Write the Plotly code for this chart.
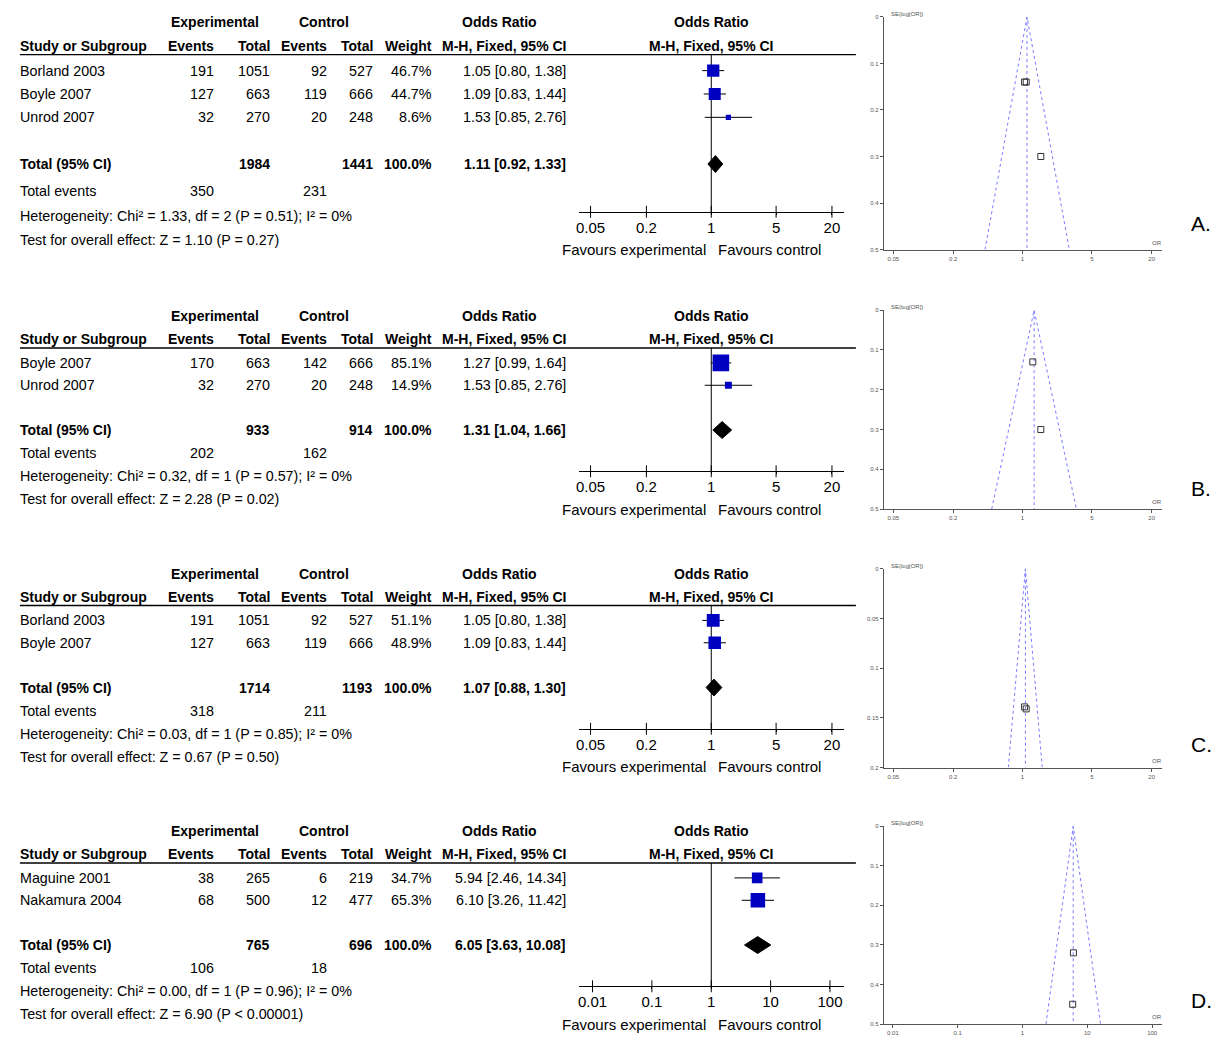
import math
import plotly.graph_objects as go

W, H = 1219, 1039
FONT = "Liberation Sans, Arial, sans-serif"

# ---------------- data: panel A ----------------
a_study = ["Borland 2003", "Boyle 2007", "Unrod 2007"]
a_exp_events = [191, 127, 32]
a_exp_total = [1051, 663, 270]
a_ctl_events = [92, 119, 20]
a_ctl_total = [527, 666, 248]
a_weight = [46.7, 44.7, 8.6]
a_or = [1.05, 1.09, 1.53]
a_lo = [0.80, 0.83, 0.85]
a_hi = [1.38, 1.44, 2.76]
a_total_n = [1984, 1441]
a_total_events = [350, 231]
a_pooled = [1.11, 0.92, 1.33]
a_het = "Heterogeneity: Chi² = 1.33, df = 2 (P = 0.51); I² = 0%"
a_test = "Test for overall effect: Z = 1.10 (P = 0.27)"
a_se = [0.14, 0.14, 0.30]
a_funnel_base = [0.42, 2.96]
a_se_max = 0.5

# ---------------- data: panel B ----------------
b_study = ["Boyle 2007", "Unrod 2007"]
b_exp_events = [170, 32]
b_exp_total = [663, 270]
b_ctl_events = [142, 20]
b_ctl_total = [666, 248]
b_weight = [85.1, 14.9]
b_or = [1.27, 1.53]
b_lo = [0.99, 0.85]
b_hi = [1.64, 2.76]
b_total_n = [933, 914]
b_total_events = [202, 162]
b_pooled = [1.31, 1.04, 1.66]
b_het = "Heterogeneity: Chi² = 0.32, df = 1 (P = 0.57); I² = 0%"
b_test = "Test for overall effect: Z = 2.28 (P = 0.02)"
b_se = [0.13, 0.30]
b_funnel_base = [0.49, 3.49]
b_se_max = 0.5

# ---------------- data: panel C ----------------
c_study = ["Borland 2003", "Boyle 2007"]
c_exp_events = [191, 127]
c_exp_total = [1051, 663]
c_ctl_events = [92, 119]
c_ctl_total = [527, 666]
c_weight = [51.1, 48.9]
c_or = [1.05, 1.09]
c_lo = [0.80, 0.83]
c_hi = [1.38, 1.44]
c_total_n = [1714, 1193]
c_total_events = [318, 211]
c_pooled = [1.07, 0.88, 1.30]
c_het = "Heterogeneity: Chi² = 0.03, df = 1 (P = 0.85); I² = 0%"
c_test = "Test for overall effect: Z = 0.67 (P = 0.50)"
c_se = [0.139, 0.141]
c_funnel_base = [0.72, 1.58]
c_se_max = 0.2

# ---------------- data: panel D ----------------
d_study = ["Maguine 2001", "Nakamura 2004"]
d_exp_events = [38, 68]
d_exp_total = [265, 500]
d_ctl_events = [6, 12]
d_ctl_total = [219, 477]
d_weight = [34.7, 65.3]
d_or = [5.94, 6.10]
d_lo = [2.46, 3.26]
d_hi = [14.34, 11.42]
d_total_n = [765, 696]
d_total_events = [106, 18]
d_pooled = [6.05, 3.63, 10.08]
d_het = "Heterogeneity: Chi² = 0.00, df = 1 (P = 0.96); I² = 0%"
d_test = "Test for overall effect: Z = 6.90 (P < 0.00001)"
d_se = [0.45, 0.32]
d_funnel_base = [2.3, 16.0]
d_se_max = 0.5

# tick labels
forest_ticks_abc = [0.05, 0.2, 1, 5, 20]
forest_ticklabels_abc = ["0.05", "0.2", "1", "5", "20"]
forest_ticks_d = [0.01, 0.1, 1, 10, 100]
forest_ticklabels_d = ["0.01", "0.1", "1", "10", "100"]
funnel_yticks_05 = [0, 0.1, 0.2, 0.3, 0.4, 0.5]
funnel_yticklabels_05 = ["0", "0.1", "0.2", "0.3", "0.4", "0.5"]
funnel_yticks_02 = [0, 0.05, 0.1, 0.15, 0.2]
funnel_yticklabels_02 = ["0", "0.05", "0.1", "0.15", "0.2"]
panel_letters = ["A.", "B.", "C.", "D."]

panels = [
    dict(study=a_study, ee=a_exp_events, et=a_exp_total, ce=a_ctl_events, ct=a_ctl_total,
         w=a_weight, orr=a_or, lo=a_lo, hi=a_hi, tn=a_total_n, tev=a_total_events,
         pooled=a_pooled, het=a_het, test=a_test, se=a_se, base=a_funnel_base, semax=a_se_max,
         fticks=forest_ticks_abc, flabels=forest_ticklabels_abc,
         yticks=funnel_yticks_05, ylabels=funnel_yticklabels_05),
    dict(study=b_study, ee=b_exp_events, et=b_exp_total, ce=b_ctl_events, ct=b_ctl_total,
         w=b_weight, orr=b_or, lo=b_lo, hi=b_hi, tn=b_total_n, tev=b_total_events,
         pooled=b_pooled, het=b_het, test=b_test, se=b_se, base=b_funnel_base, semax=b_se_max,
         fticks=forest_ticks_abc, flabels=forest_ticklabels_abc,
         yticks=funnel_yticks_05, ylabels=funnel_yticklabels_05),
    dict(study=c_study, ee=c_exp_events, et=c_exp_total, ce=c_ctl_events, ct=c_ctl_total,
         w=c_weight, orr=c_or, lo=c_lo, hi=c_hi, tn=c_total_n, tev=c_total_events,
         pooled=c_pooled, het=c_het, test=c_test, se=c_se, base=c_funnel_base, semax=c_se_max,
         fticks=forest_ticks_abc, flabels=forest_ticklabels_abc,
         yticks=funnel_yticks_02, ylabels=funnel_yticklabels_02),
    dict(study=d_study, ee=d_exp_events, et=d_exp_total, ce=d_ctl_events, ct=d_ctl_total,
         w=d_weight, orr=d_or, lo=d_lo, hi=d_hi, tn=d_total_n, tev=d_total_events,
         pooled=d_pooled, het=d_het, test=d_test, se=d_se, base=d_funnel_base, semax=d_se_max,
         fticks=forest_ticks_d, flabels=forest_ticklabels_d,
         yticks=funnel_yticks_05, ylabels=funnel_yticklabels_05),
]

# ---------------- layout geometry (pixels) ----------------
geom = [
    dict(h1=19, h2=43, line=52, y0=68, step=23.5, tev=189, het=214, test=238, axis=210, fav=248,
         letter=222, fx_range=1.43, fun_top=14, fun_bot=248, fun_range=[-1.396, 1.406]),
    dict(h1=315, h2=338, line=347, y0=362, step=22.5, tev=453, het=476, test=499, axis=471, fav=509,
         letter=488, fx_range=1.43, fun_top=309, fun_bot=509, fun_range=[-1.396, 1.406]),
    dict(h1=574, h2=597, line=606, y0=621, step=22.5, tev=712, het=735, test=758, axis=730, fav=768,
         letter=746, fx_range=1.43, fun_top=569, fun_bot=769, fun_range=[-1.396, 1.406]),
    dict(h1=833, h2=856, line=865, y0=880, step=22.5, tev=971, het=994, test=1017, axis=989, fav=1027,
         letter=1003, fx_range=2.235, fun_top=828, fun_bot=1027, fun_range=[-2.14, 2.154]),
]

LEFT = 16
COL_EE, COL_ET, COL_CE, COL_CT, COL_W, COL_OR = 213, 269, 326, 372, 431, 565
FOREST_L, FOREST_R = 577, 843
FUN_L, FUN_R = 883, 1162
FS = 14.3   # regular text size
FB = 14     # bold text size


def px(x):
    return x / W


def py(y):
    return 1 - y / H


annotations = []
shapes = []
fig = go.Figure()


def txt(x, y, s, anchor="left", bold=False, size=FS, color="black"):
    annotations.append(dict(
        x=px(x), y=py(y), xref="paper", yref="paper",
        text=("<b>%s</b>" % s) if bold else s, showarrow=False,
        xanchor=anchor, yanchor="middle", borderpad=0,
        font=dict(family=FONT, size=size, color=color)))


layout_axes = {}

for i, (p, g) in enumerate(zip(panels, geom)):
    fi = i + 1          # forest axis index
    ui = i + 5          # funnel axis index
    fx = "x" if fi == 1 else "x%d" % fi
    fy = "y" if fi == 1 else "y%d" % fi
    ux = "x%d" % ui
    uy = "y%d" % ui

    n = len(p["study"])
    rows = list(range(n))
    total_row = n + 1

    def rpx(r, g=g):
        return g["y0"] + r * g["step"]

    # ---------- table text ----------
    txt(213, g["h1"], "Experimental", "center", True, FB)
    txt(322, g["h1"], "Control", "center", True, FB)
    txt(498, g["h1"], "Odds Ratio", "center", True, FB)
    txt(710, g["h1"], "Odds Ratio", "center", True, FB)
    txt(LEFT, g["h2"], "Study or Subgroup", "left", True, FB)
    txt(COL_EE, g["h2"], "Events", "right", True, FB)
    txt(COL_ET, g["h2"], "Total", "right", True, FB)
    txt(COL_CE, g["h2"], "Events", "right", True, FB)
    txt(COL_CT, g["h2"], "Total", "right", True, FB)
    txt(COL_W, g["h2"], "Weight", "right", True, FB)
    txt(COL_OR, g["h2"], "M-H, Fixed, 95% CI", "right", True, FB)
    txt(710, g["h2"], "M-H, Fixed, 95% CI", "center", True, FB)

    shapes.append(dict(type="line", xref="paper", yref="paper",
                       x0=px(17), x1=px(855), y0=py(g["line"]), y1=py(g["line"]),
                       line=dict(color="black", width=1.3)))

    for r in rows:
        yy = rpx(r)
        txt(LEFT, yy, p["study"][r])
        txt(COL_EE, yy, str(p["ee"][r]), "right")
        txt(COL_ET, yy, str(p["et"][r]), "right")
        txt(COL_CE, yy, str(p["ce"][r]), "right")
        txt(COL_CT, yy, str(p["ct"][r]), "right")
        txt(COL_W, yy, "%.1f%%" % p["w"][r], "right")
        txt(COL_OR, yy, "%.2f [%.2f, %.2f]" % (p["orr"][r], p["lo"][r], p["hi"][r]), "right")

    yt = rpx(total_row)
    txt(LEFT, yt, "Total (95% CI)", "left", True, FB)
    txt(COL_ET, yt, str(p["tn"][0]), "right", True, FB)
    txt(COL_CT, yt, str(p["tn"][1]), "right", True, FB)
    txt(COL_W, yt, "100.0%", "right", True, FB)
    txt(COL_OR, yt, "%.2f [%.2f, %.2f]" % tuple(p["pooled"]), "right", True, FB)
    txt(LEFT, g["tev"], "Total events")
    txt(COL_EE, g["tev"], str(p["tev"][0]), "right")
    txt(COL_CE, g["tev"], str(p["tev"][1]), "right")
    txt(LEFT, g["het"], p["het"])
    txt(LEFT, g["test"], p["test"])

    # ---------- forest plot ----------
    r_top = (g["line"] - g["y0"]) / g["step"]
    r_bot = (g["axis"] - g["y0"]) / g["step"]
    ci_x, ci_y = [], []
    for r in rows:
        ci_x += [p["lo"][r], p["hi"][r], None]
        ci_y += [r, r, None]
    fig.add_trace(go.Scatter(x=ci_x, y=ci_y, mode="lines", xaxis=fx, yaxis=fy,
                             line=dict(color="black", width=1), hoverinfo="skip",
                             showlegend=False))
    fig.add_trace(go.Scatter(x=p["orr"], y=rows, mode="markers", xaxis=fx, yaxis=fy,
                             marker=dict(symbol="square", color="#0000c0", opacity=1,
                                         size=[1.8 * math.sqrt(w) for w in p["w"]],
                                         line=dict(width=0)),
                             showlegend=False))
    hgt = 8.5 / g["step"]
    por, plo, phi = p["pooled"]
    fig.add_trace(go.Scatter(x=[plo, por, phi, por, plo],
                             y=[total_row, total_row - hgt, total_row, total_row + hgt, total_row],
                             mode="lines", fill="toself", fillcolor="black",
                             line=dict(color="black", width=1), xaxis=fx, yaxis=fy,
                             showlegend=False))
    # vertical line of no effect
    shapes.append(dict(type="line", xref=fx, yref="%s domain" % fy, x0=1, x1=1, y0=0, y1=1,
                       layer="below", line=dict(color="black", width=1)))
    dom_h = g["axis"] - g["line"]
    for tv in p["fticks"]:
        shapes.append(dict(type="line", xref=fx, yref="%s domain" % fy, x0=tv, x1=tv,
                           y0=-6 / dom_h, y1=6 / dom_h, line=dict(color="black", width=1)))

    layout_axes["xaxis" if fi == 1 else "xaxis%d" % fi] = dict(
        type="log", range=[-g["fx_range"], g["fx_range"]],
        domain=[px(FOREST_L), px(FOREST_R)], anchor=fy,
        showline=True, linecolor="black", linewidth=1, ticks="outside", ticklen=2,
        tickcolor="black", tickvals=p["fticks"], ticktext=p["flabels"],
        tickfont=dict(family=FONT, size=15, color="black"),
        showgrid=False, zeroline=False, fixedrange=True)
    layout_axes["yaxis" if fi == 1 else "yaxis%d" % fi] = dict(
        range=[r_bot, r_top], domain=[py(g["axis"]), py(g["line"])], anchor=fx,
        visible=False, showgrid=False, zeroline=False, fixedrange=True)

    annotations.append(dict(x=0, xref=fx, xanchor="right", xshift=-4, y=py(g["fav"]),
                            yref="paper", yanchor="middle", showarrow=False, borderpad=0,
                            text="Favours experimental",
                            font=dict(family=FONT, size=15, color="black")))
    annotations.append(dict(x=0, xref=fx, xanchor="left", xshift=6, y=py(g["fav"]),
                            yref="paper", yanchor="middle", showarrow=False, borderpad=0,
                            text="Favours control",
                            font=dict(family=FONT, size=15, color="black")))

    # ---------- funnel plot ----------
    semax = p["semax"]
    fig.add_trace(go.Scatter(x=[p["base"][0], por, p["base"][1]], y=[semax, 0, semax],
                             mode="lines", xaxis=ux, yaxis=uy,
                             line=dict(color="#7a7aff", width=1, dash="dot"),
                             showlegend=False, hoverinfo="skip"))
    fig.add_trace(go.Scatter(x=[por, por], y=[0, semax], mode="lines", xaxis=ux, yaxis=uy,
                             line=dict(color="#7a7aff", width=1, dash="dot"),
                             showlegend=False, hoverinfo="skip"))
    fig.add_trace(go.Scatter(x=p["orr"], y=p["se"], mode="markers", xaxis=ux, yaxis=uy,
                             marker=dict(symbol="square-open", size=6, color="#333333",
                                         line=dict(width=1)),
                             showlegend=False))
    layout_axes["xaxis%d" % ui] = dict(
        type="log", range=g["fun_range"], domain=[px(FUN_L), px(FUN_R)], anchor=uy,
        showline=True, linecolor="#555555", linewidth=1, ticks="outside", ticklen=3,
        tickcolor="#555555", tickvals=p["fticks"], ticktext=p["flabels"],
        tickfont=dict(family=FONT, size=6, color="#555555"),
        showgrid=False, zeroline=False, fixedrange=True)
    layout_axes["yaxis%d" % ui] = dict(
        range=[semax, 0], domain=[py(g["fun_bot"]), py(g["fun_top"])], anchor=ux,
        showline=True, linecolor="#555555", linewidth=1, ticks="outside", ticklen=3,
        tickcolor="#555555", tickvals=p["yticks"], ticktext=p["ylabels"],
        tickfont=dict(family=FONT, size=6, color="#555555"),
        showgrid=False, zeroline=False, fixedrange=True)
    txt(889, g["fun_top"] - 3, "SE(log[OR])", "left", False, 6, "#555555")
    txt(1157, g["fun_bot"] - 7, "OR", "center", False, 6, "#555555")

    # panel letter
    txt(1201, g["letter"], panel_letters[i], "center", False, 21)

fig.update_layout(
    width=W, height=H, margin=dict(l=0, r=0, t=0, b=0),
    paper_bgcolor="white", plot_bgcolor="rgba(0,0,0,0)",
    showlegend=False, annotations=annotations, shapes=shapes,
    font=dict(family=FONT, color="black"),
    **layout_axes)

fig.write_html("out.html", config={"displayModeBar": False},
               post_script="document.body.style.margin='0px';document.body.style.padding='0px';")
